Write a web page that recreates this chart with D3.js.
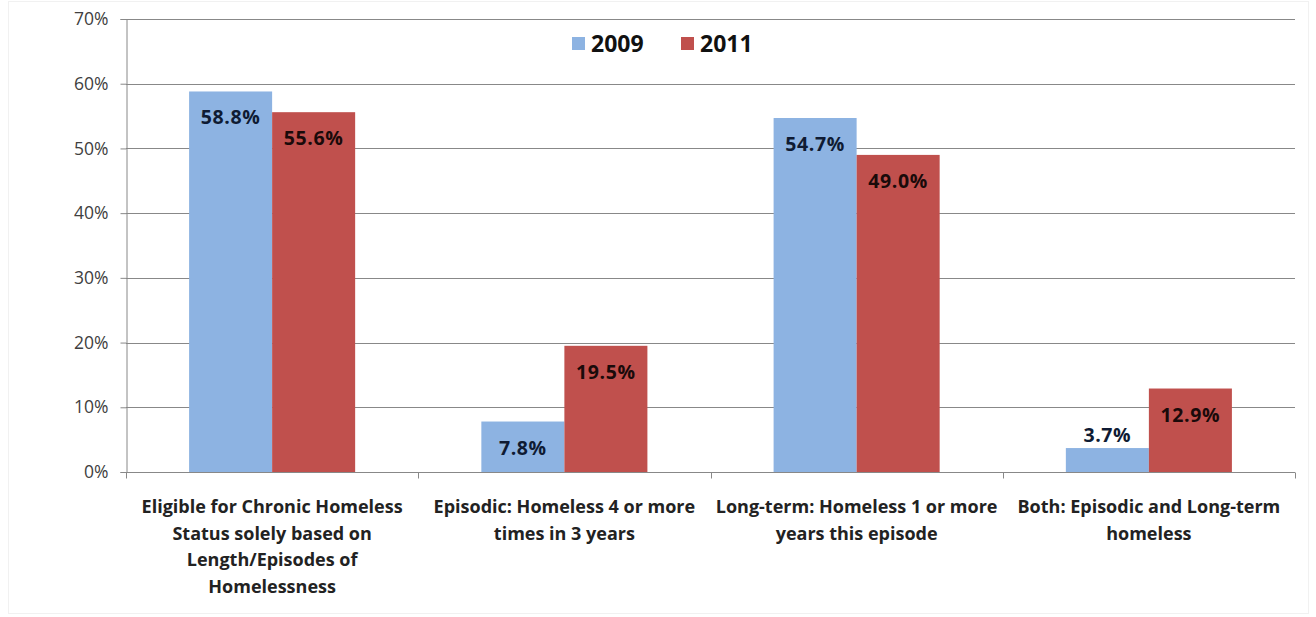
<!DOCTYPE html>
<html>
<head>
<meta charset="utf-8">
<script src="https://cdn.jsdelivr.net/npm/d3@7"></script>
<style>
  html, body { margin: 0; padding: 0; background: #fff; }
  svg { display: block; font-family: "Open Sans", "Liberation Sans", sans-serif; }
</style>
</head>
<body>
<svg id="chart" width="1316" height="617"></svg>
<script>
// Chronic homelessness criteria, share of respondents, 2009 vs 2011
const categories = [
  ["Eligible for Chronic Homeless", "Status solely based on", "Length/Episodes of", "Homelessness"],
  ["Episodic: Homeless 4 or more", "times in 3 years"],
  ["Long-term: Homeless 1 or more", "years this episode"],
  ["Both: Episodic and Long-term", "homeless"]
];
const seriesNames = ["2009", "2011"];
const values2009 = [58.8, 7.8, 54.7, 3.7];
const values2011 = [55.6, 19.5, 49.0, 12.9];
const yTicks = [0, 10, 20, 30, 40, 50, 60, 70];
const colors = ["#8db3e2", "#c0504d"];

const svg = d3.select("#chart");
const margin = { left: 126, right: 21, top: 19, bottom: 145 };
const W = 1316, H = 617;

const x0 = d3.scaleBand()
  .domain(d3.range(categories.length))
  .range([margin.left, W - margin.right])
  .paddingInner(0).paddingOuter(0);
const x1 = d3.scaleBand()
  .domain(seriesNames)
  .range([0, x0.bandwidth()])
  .paddingOuter(0.76).paddingInner(0);
const y = d3.scaleLinear().domain([0, 70]).range([H - margin.bottom, margin.top]);

// faint outer frame
svg.append("rect").attr("x", 8.5).attr("y", 1.5).attr("width", 1300).attr("height", 612)
  .attr("fill", "none").attr("stroke", "#f1f1f1");

// gridlines
svg.append("g").selectAll("line").data(yTicks.filter(d => d > 0)).join("line")
  .attr("x1", margin.left).attr("x2", W - margin.right)
  .attr("y1", d => Math.round(y(d)) + 0.5).attr("y2", d => Math.round(y(d)) + 0.5)
  .attr("stroke", "#888").attr("stroke-width", 1);

// y axis
const yAxis = svg.append("g")
  .attr("transform", `translate(${margin.left + 0.5},0)`)
  .call(d3.axisLeft(y).tickValues(yTicks).tickSize(6).tickPadding(12).tickFormat(d => d + "%"));
yAxis.select(".domain").attr("stroke", "#888");
yAxis.selectAll(".tick line").attr("stroke", "#888");
yAxis.selectAll(".tick text").attr("font-size", 17.5).attr("fill", "#404040")
  .attr("font-family", "\"Open Sans\", sans-serif");

// bars
const data = categories.map((c, i) => ({ i, vals: [values2009[i], values2011[i]] }));
const groups = svg.append("g").selectAll("g").data(data).join("g")
  .attr("transform", d => `translate(${x0(d.i)},0)`);

groups.selectAll("rect").data(d => d.vals.map((v, k) => ({ v, k }))).join("rect")
  .attr("x", d => x1(seriesNames[d.k]))
  .attr("y", d => y(d.v))
  .attr("width", x1.bandwidth())
  .attr("height", d => y(0) - y(d.v))
  .attr("fill", d => colors[d.k]);

groups.selectAll("text.val").data(d => d.vals.map((v, k) => ({ v, k }))).join("text")
  .attr("class", "val")
  .attr("x", d => x1(seriesNames[d.k]) + x1.bandwidth() / 2)
  .attr("y", d => (y(0) - y(d.v) > 40) ? y(d.v) + 33 : y(d.v) - 6)
  .attr("text-anchor", "middle")
  .attr("font-size", 19.5).attr("font-weight", "bold").attr("letter-spacing", 0.6)
  .attr("fill", d => d.k === 0 ? "#0f1b33" : "#1a0a0a")
  .text(d => d.v.toFixed(1) + "%");

// x axis
const xAxisY = Math.round(y(0)) + 0.5;
svg.append("line").attr("x1", margin.left).attr("x2", W - margin.right)
  .attr("y1", xAxisY).attr("y2", xAxisY).attr("stroke", "#888");
const bounds = d3.range(categories.length + 1).map(i => i < categories.length ? x0(i) : x0(i - 1) + x0.bandwidth());
svg.append("g").selectAll("line").data(bounds).join("line")
  .attr("x1", d => Math.round(d) + 0.5).attr("x2", d => Math.round(d) + 0.5)
  .attr("y1", xAxisY).attr("y2", xAxisY + 6).attr("stroke", "#888");

// category labels
svg.append("g").selectAll("text").data(categories).join("text")
  .attr("x", (d, i) => x0(i) + x0.bandwidth() / 2)
  .attr("y", 513)
  .attr("text-anchor", "middle")
  .attr("font-size", 18).attr("font-weight", "bold").attr("fill", "#222")
  .selectAll("tspan").data(d => d).join("tspan")
  .attr("x", function () { return this.parentNode.getAttribute("x"); })
  .attr("dy", (d, j) => j === 0 ? 0 : 26.5)
  .text(d => d);

// legend
const legend = svg.append("g");
const legendItems = [{ name: "2009", x: 572 }, { name: "2011", x: 681 }];
legendItems.forEach((it, k) => {
  legend.append("rect").attr("x", it.x).attr("y", 37).attr("width", 13).attr("height", 13).attr("fill", colors[k]);
  legend.append("text").attr("x", it.x + 19).attr("y", 52)
    .attr("font-size", 23).attr("font-weight", "bold").attr("fill", "#111").text(it.name);
});
</script>
</body>
</html>
